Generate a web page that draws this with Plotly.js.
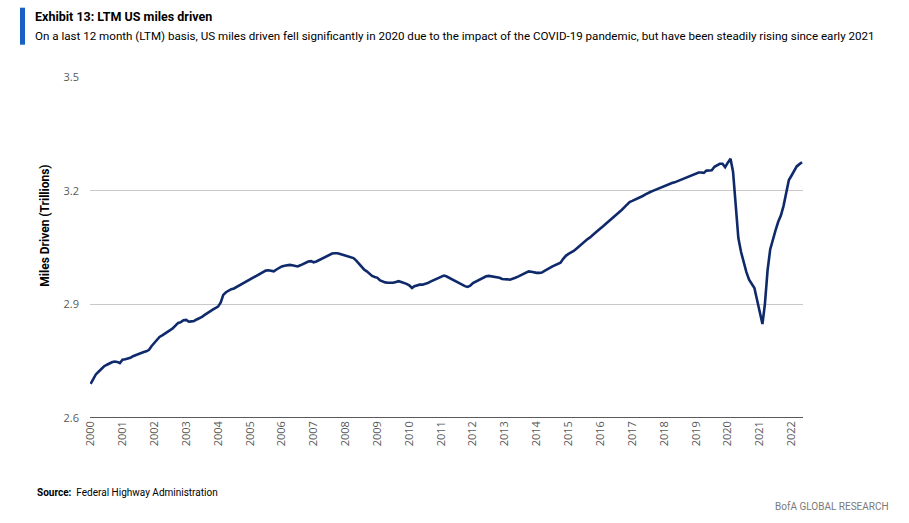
<!DOCTYPE html>
<html>
<head>
<meta charset="utf-8">
<script src="https://cdn.plot.ly/plotly-3.0.1.min.js"></script>
<style>html,body{margin:0;padding:0;background:#fff;}#chart{width:909px;height:523px;}</style>
</head>
<body>
<div id="chart"></div>
<script>
// Monthly LTM US miles driven (trillions), Jan 2000 - May 2022
const startYear = 2000;
const v2000 = [2.690, 2.703, 2.715, 2.722, 2.730, 2.736, 2.740, 2.744, 2.747, 2.749, 2.748, 2.745];
const v2001 = [2.754, 2.755, 2.756, 2.759, 2.763, 2.766, 2.770, 2.772, 2.774, 2.776, 2.780, 2.790];
const v2002 = [2.798, 2.806, 2.814, 2.818, 2.822, 2.826, 2.832, 2.837, 2.845, 2.851, 2.853, 2.858];
const v2003 = [2.859, 2.854, 2.855, 2.856, 2.860, 2.863, 2.867, 2.872, 2.876, 2.881, 2.886, 2.890];
const v2004 = [2.894, 2.905, 2.925, 2.932, 2.937, 2.940, 2.942, 2.946, 2.950, 2.954, 2.958, 2.962];
const v2005 = [2.966, 2.970, 2.975, 2.978, 2.982, 2.986, 2.989, 2.990, 2.988, 2.987, 2.992, 2.997];
const v2006 = [3.000, 3.002, 3.003, 3.004, 3.003, 3.002, 3.000, 3.003, 3.007, 3.011, 3.013, 3.014];
const v2007 = [3.011, 3.013, 3.016, 3.019, 3.022, 3.026, 3.030, 3.034, 3.035, 3.035, 3.033, 3.031];
const v2008 = [3.029, 3.028, 3.026, 3.022, 3.016, 3.008, 3.000, 2.992, 2.987, 2.981, 2.975, 2.972];
const v2009 = [2.970, 2.963, 2.960, 2.958, 2.957, 2.956, 2.957, 2.959, 2.961, 2.959, 2.957, 2.954];
const v2010 = [2.950, 2.943, 2.948, 2.951, 2.952, 2.952, 2.953, 2.956, 2.960, 2.963, 2.966, 2.971];
const v2011 = [2.974, 2.976, 2.974, 2.970, 2.967, 2.964, 2.960, 2.956, 2.952, 2.948, 2.946, 2.949];
const v2012 = [2.956, 2.960, 2.963, 2.966, 2.970, 2.974, 2.975, 2.974, 2.973, 2.972, 2.970, 2.967];
const v2013 = [2.967, 2.966, 2.965, 2.967, 2.970, 2.973, 2.977, 2.981, 2.985, 2.987, 2.986, 2.984];
const v2014 = [2.983, 2.983, 2.984, 2.988, 2.993, 2.996, 3.000, 3.003, 3.005, 3.010, 3.020, 3.028];
const v2015 = [3.033, 3.037, 3.041, 3.047, 3.053, 3.060, 3.067, 3.071, 3.076, 3.081, 3.088, 3.094];
const v2016 = [3.099, 3.106, 3.112, 3.118, 3.124, 3.130, 3.137, 3.143, 3.149, 3.156, 3.163, 3.170];
const v2017 = [3.173, 3.176, 3.179, 3.182, 3.186, 3.190, 3.194, 3.197, 3.200, 3.203, 3.207, 3.210];
const v2018 = [3.213, 3.215, 3.217, 3.220, 3.222, 3.225, 3.227, 3.230, 3.233, 3.236, 3.239, 3.242];
const v2019 = [3.245, 3.248, 3.248, 3.247, 3.253, 3.254, 3.254, 3.263, 3.268, 3.271, 3.271, 3.262];
const v2020 = [3.274, 3.284, 3.250, 3.165, 3.075, 3.038, 3.010, 2.985, 2.965, 2.955, 2.943, 2.912];
const v2021 = [2.878, 2.848, 2.900, 2.990, 3.045, 3.074, 3.095, 3.118, 3.135, 3.160, 3.195, 3.228];
const v2022 = [3.240, 3.253, 3.264, 3.270, 3.275];

const milesDriven = [].concat(v2000, v2001, v2002, v2003, v2004, v2005, v2006, v2007,
  v2008, v2009, v2010, v2011, v2012, v2013, v2014, v2015, v2016, v2017, v2018,
  v2019, v2020, v2021, v2022);
const yearTicks = ['2000','2001','2002','2003','2004','2005','2006','2007','2008','2009','2010',
  '2011','2012','2013','2014','2015','2016','2017','2018','2019','2020','2021','2022'];

const months = milesDriven.map((_, i) => {
  const y = startYear + Math.floor(i / 12);
  const m = (i % 12) + 1;
  return y + '-' + String(m).padStart(2, '0') + '-01';
});

const L = 90, R = 803, T = 77.3, B = 418.3;
const W = R - L, H = B - T;
const px = x => (x - L) / W;
const py = y => (B - y) / H;

const narrow = 'Roboto, "Liberation Sans", Arial, sans-serif';

const trace = {
  x: months, y: milesDriven, type: 'scatter', mode: 'lines',
  line: {color: '#0f2a6b', width: 2.6}, hoverinfo: 'skip'
};

const layout = {
  width: 909, height: 523,
  margin: {l: L, r: 909 - R, t: T, b: 523 - B},
  paper_bgcolor: '#ffffff', plot_bgcolor: '#ffffff',
  showlegend: false,
  xaxis: {
    type: 'date',
    range: ['1999-12-25', '2022-05-12'],
    tickmode: 'array',
    tickvals: yearTicks.map(y => y + '-01-01'),
    ticktext: yearTicks,
    tickangle: -90,
    showgrid: false, zeroline: false,
    showline: false, ticks: '',
    tickfont: {family: '"Open Sans", sans-serif', size: 11, color: '#595959'}
  },
  yaxis: {
    range: [2.6, 3.5],
    tickvals: [2.6, 2.9, 3.2, 3.5],
    ticktext: ['2.6', '2.9', '3.2', '3.5'],
    showgrid: true, gridcolor: '#c9c9c9', gridwidth: 1,
    zeroline: false, showline: false, ticks: '',
    ticklabelstandoff: 10,
    tickfont: {family: '"Open Sans", sans-serif', size: 11, color: '#595959'}
  },
  shapes: [
    {type: 'rect', xref: 'paper', yref: 'paper', x0: px(20), x1: px(25), y0: py(45), y1: py(8),
     fillcolor: '#1a5fc4', line: {width: 0}},
    {type: 'line', xref: 'paper', yref: 'y', x0: 0, x1: 1, y0: 2.6, y1: 2.6,
     line: {color: '#5a5a5a', width: 2}}
  ],
  annotations: [
    {xref: 'paper', yref: 'paper', x: px(33), y: py(17), xanchor: 'left', yanchor: 'middle',
     showarrow: false, text: '<b>Exhibit 13: LTM US miles driven</b>',
     font: {family: narrow, size: 12.5, color: '#000'}},
    {xref: 'paper', yref: 'paper', x: px(33), y: py(36), xanchor: 'left', yanchor: 'middle',
     showarrow: false,
     text: 'On a last 12 month (LTM) basis, US miles driven fell significantly in 2020 due to the impact of the COVID-19 pandemic, but have been steadily rising since early 2021',
     font: {family: narrow, size: 11.6, color: '#000'}},
    {xref: 'paper', yref: 'paper', x: px(45), y: py(226), xanchor: 'center', yanchor: 'middle',
     showarrow: false, textangle: -90, text: '<b>Miles Driven (Trillions)</b>',
     font: {family: narrow, size: 12, color: '#000'}},
    {xref: 'paper', yref: 'paper', x: px(35), y: py(493), xanchor: 'left', yanchor: 'middle',
     showarrow: false, text: '<b>Source:</b>  Federal Highway Administration',
     font: {family: narrow, size: 10, color: '#000'}},
    {xref: 'paper', yref: 'paper', x: px(891), y: py(507), xanchor: 'right', yanchor: 'middle',
     showarrow: false, text: 'BofA GLOBAL RESEARCH',
     font: {family: narrow, size: 10, color: '#7a7a7a'}}
  ]
};

Plotly.newPlot('chart', [trace], layout, {displayModeBar: false, staticPlot: true});
</script>
</body>
</html>
